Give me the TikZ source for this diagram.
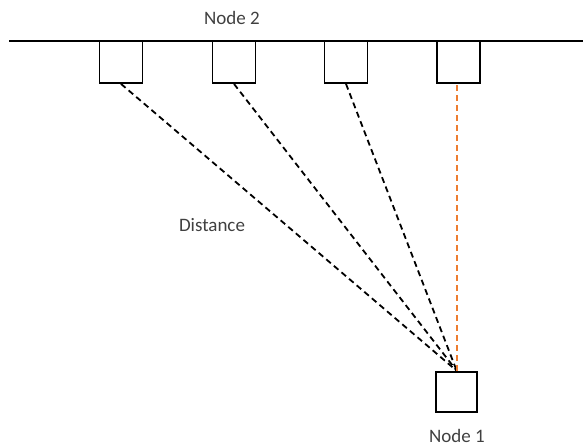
\documentclass[tikz,border=0pt]{standalone}
\usepackage{fontspec}
\setmainfont{Carlito}
\definecolor{lineorange}{RGB}{237,125,49}
\definecolor{labelgray}{RGB}{64,64,64}
\begin{document}
\begin{tikzpicture}[x=1pt,y=-1pt,
  box/.style={draw=black, line width=1.8pt, minimum width=43pt, minimum height=42pt, inner sep=0pt, fill=white},
  lbl/.style={text=labelgray, font=\fontsize{19}{22}\selectfont, inner sep=0pt},
  link/.style={line width=1.8pt, dash pattern=on 6pt off 4pt},
  bus/.style={line width=1.8pt}]
\useasboundingbox (0,0) rectangle (583,446);
\coordinate (busl) at (9,41);
\coordinate (busr) at (583,41);
\draw[bus] (busl) -- (busr);
\node[box] (s1) at (121,62) {};
\node[box] (s2) at (234,62) {};
\node[box] (s3) at (346,62) {};
\node[box] (s4) at (458.5,62) {};
\node[box, minimum width=41pt, minimum height=40pt] (n1) at (456.7,391.7) {};
\draw[link] (s1.south) -- (n1.north);
\draw[link] (s2.south) -- (n1.north);
\draw[link] (s3.south) -- (n1.north);
\draw[link, draw=lineorange] (n1.north) -- (n1.north |- s4.south);
\node[lbl] (t2) at (232,18) {Node 2};
\node[lbl] (td) at (212,225) {Distance};
\node[lbl] (t1) at (457,436) {Node 1};
\end{tikzpicture}
\end{document}
